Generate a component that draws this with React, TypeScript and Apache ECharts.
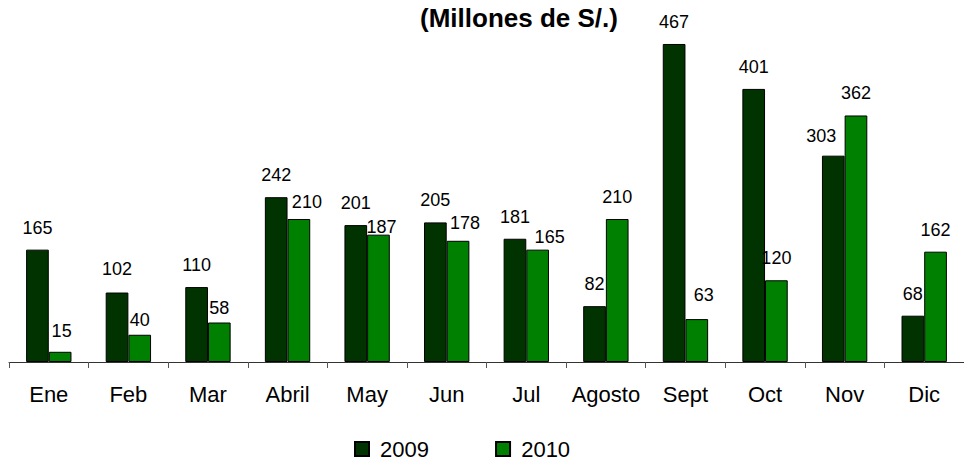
import React, { useEffect, useRef } from "react";
import * as echarts from "echarts";

const categories = ["Ene", "Feb", "Mar", "Abril", "May", "Jun", "Jul", "Agosto", "Sept", "Oct", "Nov", "Dic"];
const values2009 = [165, 102, 110, 242, 201, 205, 181, 82, 467, 401, 303, 68];
const values2010 = [15, 40, 58, 210, 187, 178, 165, 210, 63, 120, 362, 162];
const seriesNames = ["2009", "2010"];
const titleText = "(Millones de S/.)";

// label nudges (as in the original chart, where some labels were moved by hand)
const offsets2009: Record<number, [number, number]> = {
  1: [0, -2],
  10: [-12, 2],
};
const offsets2010: Record<number, [number, number]> = {
  0: [1.5, 1],
  1: [0, 7],
  2: [0, 7.5],
  3: [8, 5],
  4: [3, 14],
  5: [7, 4],
  6: [12, 9],
  8: [7, -2],
};

const FONT = "'Liberation Sans', Arial, sans-serif";

function buildData(vals: number[], offs: Record<number, [number, number]>) {
  return vals.map((v, i) =>
    offs[i] ? { value: v, label: { offset: offs[i] } } : v
  );
}

export default function App() {
  const ref = useRef<HTMLDivElement>(null);
  useEffect(() => {
    if (!ref.current) return;
    const chart = echarts.init(ref.current, null, { renderer: "svg" });
    const labelStyle = {
      show: true,
      position: "top" as const,
      distance: 13,
      color: "#000",
      fontSize: 18,
      fontFamily: FONT,
    };
    chart.setOption({
      animation: false,
      backgroundColor: "#fff",
      title: {
        text: titleText,
        left: 514,
        top: 0,
        textAlign: "center",
        textStyle: { fontFamily: FONT, fontWeight: "bold", fontSize: 26, color: "#000" },
      },
      legend: {
        left: 354,
        top: 438,
        padding: 0,
        itemWidth: 14,
        itemHeight: 14,
        itemGap: 66,
        icon: "rect",
        formatter: " {name}",
        textStyle: { fontFamily: FONT, fontSize: 22, lineHeight: 22, color: "#000" },
        data: seriesNames,
      },
      grid: { left: 9, top: 21.5, width: 964, height: 340.5, containLabel: false },
      xAxis: {
        type: "category",
        data: categories,
        axisLine: { show: true, lineStyle: { color: "#333", width: 1 } },
        axisTick: { show: true, length: 6, lineStyle: { color: "#555" } },
        axisLabel: { interval: 0, fontFamily: FONT, fontSize: 22, color: "#000", margin: 21 },
      },
      yAxis: {
        type: "value",
        min: 0,
        max: 500,
        show: false,
        splitLine: { show: false },
      },
      series: [
        {
          name: seriesNames[0],
          type: "bar",
          data: buildData(values2009, offsets2009),
          barGap: "0%",
          barCategoryGap: "43%",
          itemStyle: { color: "#003300", borderColor: "#000", borderWidth: 1 },
          label: labelStyle,
        },
        {
          name: seriesNames[1],
          type: "bar",
          data: buildData(values2010, offsets2010),
          barGap: "0%",
          barCategoryGap: "43%",
          itemStyle: { color: "#008000", borderColor: "#000", borderWidth: 1 },
          label: labelStyle,
        },
      ],
    });
    return () => chart.dispose();
  }, []);
  return (
    <div
      ref={ref}
      style={{ position: "absolute", left: 0, top: 0, width: 964, height: 461 }}
    />
  );
}
